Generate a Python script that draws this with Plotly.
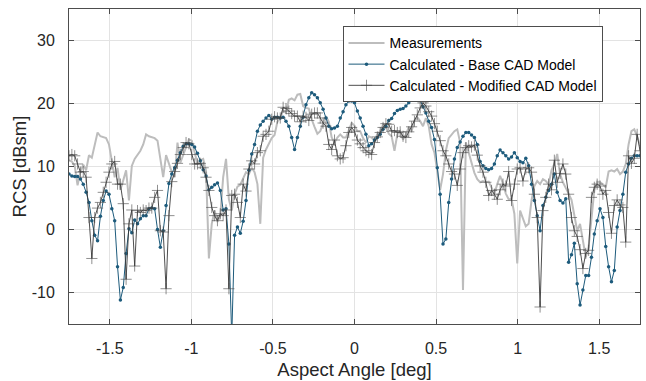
import plotly.graph_objects as go

# Aspect angle grid (deg)
angle_start = -1.75
angle_step = 0.0175
n_points = 201
angle = [round(angle_start + k * angle_step, 4) for k in range(n_points)]

measurements = [
    11.0, 10.8, 10.1, 7.0, 9.2, 10.3, 9.4, 11.8, 11.4, 13.5,
    15.4, 14.8, 14.7, 14.5, 13.5, 11.2, 8.3, 9.8, 6.3, 7.8,
    9.4, 4.6, 10.1, 11.2, 11.8, 12.5, 13.5, 15.1, 14.8, 14.6,
    14.5, 14.1, 11.4, 8.3, 11.8, 10.6, 9.1, 8.3, 13.8, 10.6,
    11.9, 13.0, 14.3, 14.1, 12.2, 10.4, 11.0, 11.2, 9.3, -4.6,
    0.9, 3.0, 1.2, 2.2, 8.3, 11.2, 4.8, 3.0, 5.6, 6.8,
    7.1, 8.0, 9.1, 8.8, 9.8, 9.1, 7.2, 0.9, 11.4, 12.7,
    13.6, 14.5, 15.0, 17.1, 17.7, 18.9, 18.5, 20.6, 20.8, 20.5,
    21.4, 21.5, 19.6, 19.3, 19.2, 17.5, 16.3, 15.2, 15.6, 16.7,
    18.0, 17.1, 14.6, 13.8, 14.6, 15.1, 14.6, 14.6, 15.9, 16.9,
    16.5, 15.6, 15.6, 14.5, 13.8, 14.8, 14.6, 14.1, 15.1, 15.6,
    16.6, 16.4, 15.2, 14.8, 12.5, 15.1, 15.6, 14.3, 15.1, 16.2,
    15.6, 17.3, 17.8, 17.2, 16.4, 17.7, 16.4, 13.5, 12.2, 9.1,
    6.3, 8.8, 12.5, 14.5, 15.1, 15.6, 15.9, 13.8, -9.6, 13.8,
    12.2, 10.6, 9.0, 8.0, 7.5, 7.7, 7.5, 7.6, 6.7, 5.7,
    7.2, 8.5, 7.3, 5.7, 4.8, 4.8, 2.5, -5.4, 3.0, 1.9,
    0.5, 0.9, 4.6, 6.9, 7.7, 7.2, 8.0, 7.7, 7.2, 9.4,
    10.4, 12.0, 8.8, 7.5, 6.7, 5.7, 4.7, 1.9, -0.2, 0.9,
    -2.0, -4.4, -2.8, 1.9, 6.2, 7.6, 7.5, 7.2, 6.7, 9.2,
    9.4, 9.2, 9.6, 8.8, 9.2, 10.4, 13.5, 15.6, 15.9, 14.8, 13.3,
]

base_cad = [
    8.8, 8.5, 8.4, 8.4, 8.0, 7.2, 5.9, 4.3, 1.4, -0.9,
    -1.8, 2.1, 4.6, 6.1, 5.6, 3.3, 1.4, -5.9, -11.2, -9.2,
    -3.8, 0.1, -0.5, 1.5, 0.9, 1.7, 2.2, 2.2, 3.3, 3.4,
    3.3, 0.0, -2.8, -0.2, 3.8, 7.3, 8.8, 9.8, 11.0, 12.2,
    13.2, 13.6, 13.6, 13.5, 13.1, 12.1, 10.9, 9.5, 8.5, 6.3,
    6.7, 7.1, 7.4, 6.2, 3.1, 3.3, -2.3, -17.0, -0.9, 0.4,
    -0.6, 1.3, 4.6, 9.4, 12.0, 13.5, 15.6, 16.6, 17.2, 17.7,
    18.1, 17.5, 17.8, 17.8, 17.7, 17.8, 17.2, 16.4, 14.6, 12.7,
    14.6, 16.4, 17.8, 19.8, 20.9, 21.7, 21.4, 20.9, 20.1, 19.1,
    17.7, 16.4, 16.0, 16.1, 16.4, 17.7, 18.7, 19.8, 20.4, 20.4,
    20.1, 18.8, 17.7, 16.4, 15.1, 13.3, 13.6, 14.2, 14.6, 15.1,
    15.9, 16.4, 17.3, 17.6, 18.4, 18.9, 19.1, 19.2, 19.6, 20.1,
    20.8, 21.1, 21.0, 20.5, 19.5, 18.5, 17.2, 16.2, 14.3, 9.8,
    5.6, -2.3, -1.5, 4.3, 8.0, 11.2, 13.0, 13.9, 14.8, 15.4,
    15.4, 15.0, 14.6, 13.5, 10.8, 10.1, 9.7, 9.5, 9.7, 10.4,
    11.7, 12.6, 12.2, 11.7, 11.2, 11.5, 12.2, 11.4, 10.8, 10.6,
    11.3, 10.1, 7.2, 4.6, 2.2, -0.2, 3.8, 5.1, 6.2, 7.2,
    8.8, 5.9, 4.6, 4.2, 4.9, -5.2, -4.0, -2.2, -8.6, -12.0,
    -9.6, -7.3, -7.3, -4.4, -0.7, 1.4, 3.3, 1.9, -2.7, -5.9,
    -8.3, -6.5, 0.4, 3.0, 5.6, 9.1, 10.4, 11.3, 11.7, 11.7, 11.7,
]

modified_cad = [
    11.7, 11.9, 11.7, 10.4, 9.1, 9.2, 8.3, 1.9, -4.6, 1.9,
    3.4, 4.3, 5.9, 7.5, 9.1, 10.4, 10.8, 7.2, 7.2, 4.1,
    -7.9, 0.9, 3.1, -5.8, 3.0, 2.7, 3.1, 3.0, 3.4, 3.4,
    5.1, 6.2, -0.2, -0.4, -9.4, 2.2, 7.6, 9.2, 10.5, 11.9,
    13.0, 13.8, 13.6, 11.9, 10.4, 10.4, 10.5, 9.8, 8.3, 6.2,
    3.5, 2.2, 1.4, 2.5, 2.2, 3.1, -9.4, 5.4, 5.6, 4.3,
    1.9, 7.2, 6.1, 9.6, 10.9, 10.4, 12.2, 12.5, 14.8, 15.1,
    15.6, 17.5, 17.9, 17.7, 17.7, 19.4, 19.2, 18.8, 18.4, 18.0,
    18.0, 17.1, 18.0, 17.8, 17.3, 18.3, 18.5, 18.5, 17.7, 16.9,
    16.4, 13.5, 12.7, 14.2, 11.7, 11.2, 11.4, 13.3, 15.4, 16.2,
    15.6, 14.2, 13.6, 13.0, 12.5, 12.2, 11.9, 13.8, 14.7, 15.4,
    16.2, 16.8, 16.7, 15.6, 15.7, 15.4, 15.5, 14.8, 14.6, 15.5,
    16.3, 17.2, 18.2, 19.3, 20.1, 19.6, 18.7, 18.0, 16.8, 15.6,
    14.1, 12.5, 11.7, 10.4, 9.2, 8.8, 7.0, 9.6, 12.2, 13.0,
    13.3, 13.1, 13.4, 11.8, 10.1, 9.1, 7.5, 5.4, 6.2, 5.6,
    4.8, 6.3, 7.2, 6.9, 9.2, 4.6, 7.2, 9.6, 9.8, 7.7,
    9.6, 9.8, 9.1, 5.6, 1.9, -12.3, 3.0, 5.1, 7.2, 6.3,
    11.0, 7.5, 8.9, 10.4, 8.8, 5.6, 1.9, -0.2, -1.1, -3.2,
    -6.2, -3.8, -3.3, 5.1, 6.7, 7.2, 6.9, 5.6, 6.2, 2.7,
    -0.6, 3.8, 4.7, 3.9, 3.5, -2.0, 11.7, 10.5, 11.3, 15.1, 12.5,
]

x_tick_vals = [-1.5, -1, -0.5, 0, 0.5, 1, 1.5]
x_tick_text = ["-1.5", "-1", "-0.5", "0", "0.5", "1", "1.5"]
y_tick_vals = [-10, 0, 10, 20, 30]
y_tick_text = ["-10", "0", "10", "20", "30"]

series_names = ["Measurements", "Calculated - Base CAD Model", "Calculated - Modified CAD Model"]

FONT = "Liberation Sans, Arial, Helvetica, sans-serif"
AXIS_COLOR = "#4d4d4d"
TEXT_COLOR = "#262626"

fig = go.Figure()
fig.add_trace(go.Scatter(
    x=angle, y=measurements, name=series_names[0], mode="lines",
    line=dict(color="#bdbdbd", width=2),
))
fig.add_trace(go.Scatter(
    x=angle, y=base_cad, name=series_names[1], mode="lines+markers",
    line=dict(color="#1d5b7c", width=1),
    marker=dict(symbol="circle", size=3.5, color="#1d5b7c"),
))
fig.add_trace(go.Scatter(
    x=angle, y=modified_cad, name=series_names[2], mode="lines+markers",
    line=dict(color="#3a3a3a", width=0.9),
    marker=dict(symbol="cross-thin", size=8, color="#444444",
                line=dict(color="#444444", width=0.6)),
))

axis_common = dict(
    showline=True, linecolor=AXIS_COLOR, linewidth=1, mirror="ticks",
    ticks="inside", ticklen=5, tickcolor=AXIS_COLOR, tickwidth=1,
    showgrid=True, gridcolor="#e3e3e3", gridwidth=1, zeroline=False,
    tickfont=dict(family=FONT, size=16, color=TEXT_COLOR),
)

fig.update_layout(
    width=646, height=381,
    margin=dict(l=69, r=5, t=9, b=55),
    paper_bgcolor="white", plot_bgcolor="white",
    font=dict(family=FONT, color=TEXT_COLOR),
    xaxis=dict(range=[-1.75, 1.75], tickvals=x_tick_vals, ticktext=x_tick_text,
               ticklabelstandoff=10,
               title=dict(text="Aspect Angle [deg]", font=dict(family=FONT, size=18.5, color=TEXT_COLOR), standoff=6),
               **axis_common),
    yaxis=dict(range=[-15, 35], tickvals=y_tick_vals, ticktext=y_tick_text,
               ticklabelstandoff=10,
               title=dict(text="RCS [dBsm]", font=dict(family=FONT, size=18.5, color=TEXT_COLOR), standoff=0),
               **axis_common),
    legend=dict(x=0.479, y=0.945, xanchor="left", yanchor="top",
                bgcolor="white", bordercolor="#4d4d4d", borderwidth=1,
                font=dict(family=FONT, size=14, color="#000000"),
                tracegroupgap=0, itemwidth=36),
    showlegend=True,
)

fig.write_html("out.html")
